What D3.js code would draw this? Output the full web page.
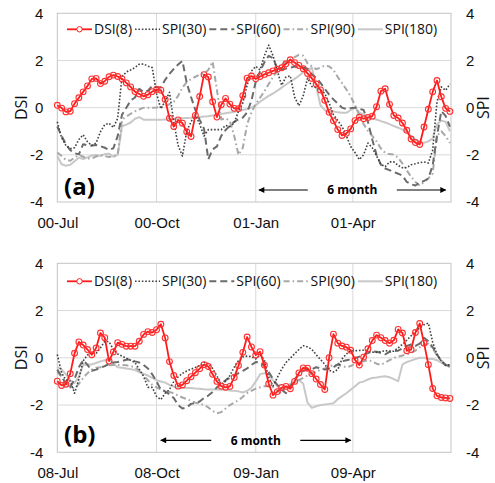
<!DOCTYPE html>
<html>
<head>
<meta charset="utf-8">
<script src="https://cdn.jsdelivr.net/npm/d3@7/dist/d3.min.js"></script>
<style>
  body { margin: 0; background: #fff; }
  #chart svg { display: block; font-family: 'Open Sans', 'Noto Sans', sans-serif; }
</style>
</head>
<body>
<div id="chart"></div>
<script>
// Every series is sampled every 4 days, starting 1 July of the first year
const stepDays = 4;
const seriesNames = ['DSI(8)', 'SPI(30)', 'SPI(60)', 'SPI(90)', 'SPI(180)'];
const yTickValues = [-4, -2, 0, 2, 4];
const quarterTicksA = ['2000-07-01', '2000-10-01', '2001-01-01', '2001-04-01'];
const quarterTicksB = ['2008-07-01', '2008-10-01', '2009-01-01', '2009-04-01'];
const spanA = ['2001-01-03', '2001-06-27'];
const spanB = ['2008-10-04', '2009-03-31'];
const spanLabel = '6 month';

// Panel (a), 2000-2001
const dsiA = [
  0.10, -0.02, -0.18, -0.15, 0.17, 0.42, 0.67, 0.92, 1.22, 1.24,
  1.02, 1.12, 1.31, 1.38, 1.32, 1.22, 1.05, 0.88, 0.68, 0.58,
  0.48, 0.55, 0.68, 0.77, 0.74, 0.35, -0.45, -0.80, -0.52, -0.66,
  -1.02, -1.22, -0.33, 0.47, 1.40, 1.30, 0.25, -0.40, 0.12, 0.39,
  0.15, -0.03, -0.04, 0.51, 1.25, 1.34, 1.22, 1.32, 1.41, 1.48,
  1.56, 1.63, 1.69, 1.86, 2.03, 1.91, 1.79, 1.65, 1.45, 1.24,
  1.00, 0.75, 0.31, -0.20, -0.56, -0.93, -1.18, -1.09, -0.90, -0.55,
  -0.41, -0.47, -0.42, -0.36, 0.04, 0.70, 0.80, 0.14, -0.33, -0.44,
  -0.65, -0.96, -1.33, -1.48, -1.56, -0.82, -0.07, 0.67, 1.15, 0.46,
  -0.03, -0.16
];
const spi30A = [
  -0.60, -1.28, -1.60, -1.74, -1.70, -1.35, -1.15, -1.45, -1.61, -1.50,
  -1.02, -0.72, -0.66, -0.84, -0.45, 1.32, 1.51, 1.60, 1.70, 1.84,
  1.85, 1.76, 1.70, 0.60, -0.05, 0.28, 0.65, -0.60, -1.60, -2.05,
  -1.00, -0.60, -0.30, -0.70, -1.20, -0.93, -0.93, -0.93, -0.93, -0.75,
  -0.80, -0.65, -0.15, 0.20, 0.95, 1.55, 1.75, 1.60, 2.20, 2.65,
  2.20, 1.55, 0.95, 1.30, 1.35, 0.45, 0.08, 0.50, 1.25, 0.90,
  0.85, 0.75, 0.60, 0.20, -0.30, -0.55, -0.80, -1.20, -1.65, -1.90,
  -2.20, -2.00, -1.50, -1.70, -2.05, -2.40, -2.50, -2.30, -2.30, -2.45,
  -2.55, -2.55, -2.42, -2.38, -2.33, -2.30, -2.35, -1.80, 0.25, 0.88,
  0.73, 1.00
];
const spi60A = [
  -0.80, -1.20, -1.55, -1.80, -1.93, -1.98, -1.55, -1.60, -1.60, -1.58,
  -1.63, -1.70, -1.79, -1.72, -1.20, -0.30, 0.00, 0.30, 0.43, 0.80,
  0.66, 0.72, 0.92, 0.88, 0.85, 1.18, 1.43, 1.64, 1.83, 1.98,
  1.05, 0.45, -0.10, -0.52, -0.89, -2.19, -1.77, -1.64, -1.20, -0.95,
  -0.77, -0.60, -0.49, -0.42, -0.20, 0.30, 1.10, 1.54, 1.92, 2.20,
  2.10, 1.65, 1.62, 1.66, 1.70, 1.74, 1.71, 1.69, 1.65, 1.41,
  1.26, 1.05, 0.80, 0.55, 0.35, 0.17, 0.00, -0.06, -0.02, 0.00,
  -0.05, -0.10, -0.60, -1.35, -2.00, -2.42, -2.58, -2.65, -2.73, -2.80,
  -2.88, -3.15, -3.25, -3.30, -3.17, -3.11, -3.00, -2.45, -1.20, -0.15,
  -0.35, -0.80
];
const spi90A = [
  -1.90, -2.05, -2.22, -2.25, -2.12, -2.00, -2.08, -2.16, -2.15, -2.07,
  -2.00, -2.05, -2.09, -2.05, -2.00, -0.50, -0.38, -0.26, -0.16, -0.08,
  0.00, 0.00, 0.00, 0.01, 0.03, 0.05, 0.15, 0.25, 0.50, 0.85,
  1.08, 1.21, 1.31, 1.40, 1.45, 1.60, 1.95, 0.75, -0.50, -0.45,
  -0.57, -1.20, -2.00, -1.70, -0.70, -0.20, 0.15, 0.42, 0.69, 1.00,
  1.30, 1.55, 1.83, 1.94, 2.04, 2.14, 2.24, 2.20, 1.88, 1.75,
  1.63, 1.70, 1.78, 1.75, 1.60, 1.30, 1.04, 0.77, 0.48, 0.10,
  -0.33, -0.70, -0.98, -1.20, -1.43, -1.73, -1.92, -1.97, -1.99, -2.12,
  -2.37, -2.66, -2.93, -3.15, -3.30, -3.15, -3.00, -2.80, -1.20, -1.00,
  -1.20, -1.50
];
const spi180A = [
  -2.05, -2.40, -2.46, -2.42, -2.27, -2.12, -2.18, -2.11, -2.03, -2.01,
  -2.05, -1.97, -1.95, -2.08, -2.00, -0.79, -0.72, -0.63, -0.47, -0.40,
  -0.51, -0.51, -0.51, -0.51, -0.51, -0.50, -0.49, -0.48, -0.47, -0.45,
  -0.44, -0.43, -0.41, -0.40, -0.38, -0.36, -0.33, -0.30, -0.27, -0.24,
  -0.21, -0.18, -0.14, -0.10, -0.06, 0.00, 0.10, 0.25, 0.38, 0.50,
  0.60, 0.72, 0.85, 0.98, 1.10, 1.22, 1.35, 1.50, 1.60, 1.70,
  0.90, 0.10, -0.10, -0.20, -0.15, -0.20, -0.22, -0.22, -0.10, 0.00,
  -0.20, -0.30, -0.40, -0.46, -0.50, -0.57, -0.63, -0.70, -0.78, -0.85,
  -0.93, -1.02, -1.20, -1.35, -1.45, -1.49, -1.43, -1.30, -0.70, -0.55,
  -0.60, -1.00
];

// Panel (b), 2008-2009
const dsiB = [
  -0.99, -1.17, -1.12, -0.67, 0.19, 0.67, 0.54, 0.35, 0.13, 0.42,
  1.05, 0.85, -0.14, 0.25, 0.64, 0.57, 0.49, 0.49, 0.49, 0.70,
  0.99, 1.11, 1.07, 1.19, 1.42, 0.84, -0.16, -0.75, -1.20, -1.15,
  -0.97, -0.80, -0.63, -0.46, -0.29, -0.37, -0.70, -1.00, -1.20, -1.25,
  -1.21, -0.83, -0.33, 0.23, 0.88, 0.46, 0.12, 0.26, -0.31, -1.10,
  -1.58, -1.43, -1.26, -1.21, -1.31, -1.00, -0.64, -0.43, -0.44, -0.67,
  -0.90, -1.13, -1.34, 0.00, 1.00, 0.62, 0.50, 0.45, 0.32, -0.09,
  -0.31, 0.03, 0.38, 0.73, 0.96, 0.85, 0.73, 0.62, 0.74, 1.20,
  1.05, 0.30, 0.35, 1.07, 1.45, 0.62, -0.29, -1.30, -1.61, -1.68,
  -1.70, -1.72
];
const spi30B = [
  0.14, -0.64, -0.94, -0.98, -1.50, -0.90, -0.13, 0.12, 0.24, 0.18,
  0.42, 0.70, 0.68, 0.35, 0.16, 0.07, -0.02, -0.10, -0.20, -0.49,
  -0.78, -1.25, -1.25, -1.63, -1.77, -1.50, -1.34, -1.00, -0.81, -0.66,
  -0.56, -0.48, -0.41, -0.33, -0.20, -0.24, -0.45, -0.77, -1.13, -0.99,
  -0.75, -0.40, -0.12, 0.04, 0.07, 0.05, -0.05, 0.13, -0.10, -0.83,
  -1.20, -0.83, -0.48, -0.20, -0.02, 0.17, 0.35, 0.51, 0.46, 0.36,
  0.13, -0.07, -0.28, -0.53, -0.60, -0.50, -0.05, 0.16, 0.30, 0.30,
  0.31, 0.32, 0.29, 0.24, 0.23, 0.26, 0.30, 0.29, 0.28, 0.42,
  0.57, 0.75, 0.93, 1.11, 1.26, 1.40, 1.47, 0.67, 0.13, -0.13,
  -0.32, -0.30
];
const spi60B = [
  -0.50, -0.80, -1.10, -1.25, -0.90, -0.40, -0.10, -0.30, -0.55, -0.50,
  -0.42, -0.35, -0.26, -0.20, -0.18, -0.14, -0.08, -0.07, -0.15, -0.20,
  -0.30, -0.45, -0.70, -1.00, -1.35, -1.42, -1.55, -1.70, -2.00, -2.15,
  -2.10, -1.95, -1.92, -1.85, -1.70, -1.60, -1.45, -1.25, -1.10, -0.95,
  -0.85, -0.75, -0.65, -0.55, -0.45, -0.30, -0.18, -0.20, -0.35, -0.60,
  -0.90, -1.15, -1.35, -1.50, -1.20, -0.90, -0.70, -0.55, -0.50, -0.48,
  -0.40, -0.45, -0.50, -0.45, -0.40, -0.28, -0.15, -0.10, -0.07, -0.02,
  0.05, 0.12, 0.20, 0.28, 0.26, 0.20, 0.15, 0.25, 0.28, 0.30,
  0.40, 0.50, 0.56, 0.50, 0.60, 0.85, 0.70, 0.45, 0.15, -0.15,
  -0.30, -0.36
];
const spi90B = [
  -0.60, -0.80, -1.05, -1.25, -1.30, -1.10, -0.85, -0.65, -0.50, -0.42,
  -0.40, -0.35, -0.32, -0.30, -0.30, -0.30, -0.32, -0.35, -0.40, -0.55,
  -0.75, -0.95, -1.15, -1.25, -1.35, -1.40, -1.45, -1.50, -1.60, -1.68,
  -1.75, -1.82, -1.90, -1.95, -2.00, -2.10, -2.25, -2.35, -2.30, -2.15,
  -2.00, -1.90, -1.80, -1.65, -1.50, -1.40, -1.30, -1.25, -1.20, -1.20,
  -1.25, -1.40, -1.50, -1.35, -1.20, -1.05, -0.95, -0.85, -0.75, -0.65,
  -0.60, -0.50, -0.45, -0.38, -0.30, -0.30, -0.35, -0.40, -0.35, -0.25,
  -0.20, -0.15, -0.10, -0.15, -0.25, -0.30, -0.20, -0.10, 0.00, 0.05,
  0.10, 0.15, 0.20, 0.30, 0.45, 0.55, 0.60, 0.40, 0.10, -0.10,
  -0.30, -0.40
];
const spi180B = [
  -0.38, -0.50, -0.70, -0.95, -1.06, -0.80, -0.30, -0.28, -0.28, -0.22,
  -0.15, -0.10, -0.07, -0.25, -0.40, -0.42, -0.45, -0.48, -0.52, -0.60,
  -0.68, -0.75, -0.85, -0.95, -1.00, -1.05, -1.15, -1.22, -1.27, -1.27,
  -1.28, -1.28, -1.30, -1.31, -1.33, -1.34, -1.34, -1.34, -1.35, -1.35,
  -1.38, -1.40, -1.42, -1.47, -1.40, -1.27, -1.00, -0.70, -0.65, -0.70,
  -0.95, -1.20, -1.34, -1.25, -1.10, -1.00, -0.93, -1.10, -1.90, -2.12,
  -2.05, -2.00, -1.98, -1.95, -1.92, -1.75, -1.62, -1.50, -1.35, -1.20,
  -1.05, -1.00, -0.92, -0.85, -0.83, -0.80, -0.78, -0.82, -0.90, -0.99,
  -0.28, -0.18, -0.12, -0.05, 0.00, 0.00, -0.05, -0.05, -0.10, -0.20,
  -0.30, -0.35
];

// Line styles for each series
const seriesStyle = {
  'DSI(8)':   { stroke: '#ff1a1a', width: 1.8, dash: null },
  'SPI(30)':  { stroke: '#404040', width: 1.6, dash: '1.6,1.8' },
  'SPI(60)':  { stroke: '#6b6b6b', width: 2, dash: '7,4' },
  'SPI(90)':  { stroke: '#a8a8a8', width: 2, dash: '6,3,1.6,3' },
  'SPI(180)': { stroke: '#c8c8c8', width: 2, dash: null }
};

const width = 495;
const height = 483;
const plot = { left: 57.3, right: 451 };
const panels = [
  { label: '(a)', top: 13.3, bottom: 202, ticks: quarterTicksA, span: spanA,
    series: [dsiA, spi30A, spi60A, spi90A, spi180A], legendDy: 16, labelDy: 182 },
  { label: '(b)', top: 263.3, bottom: 452.3, ticks: quarterTicksB, span: spanB,
    series: [dsiB, spi30B, spi60B, spi90B, spi180B], legendDy: 18, labelDy: 180 }
];

const parseDay = d3.timeParse('%Y-%m-%d');

/**
 * Draw one DSI / SPI panel
 * @param {Object} svg - d3 selection of the svg
 * @param {Object} panel - panel configuration
 */
function drawPanel(svg, panel) {
    const ticks = panel.ticks.map(parseDay);
    const start = ticks[0];

    const x = d3.scaleTime()
        .domain([start, d3.timeYear.offset(start, 1)])
        .range([plot.left, plot.right]);
    const y = d3.scaleLinear()
        .domain([-4, 4])
        .range([panel.bottom, panel.top]);

    const g = svg.append('g');

    // Gridlines
    g.append('g').selectAll('line')
        .data(yTickValues.slice(1, -1))
        .join('line')
        .attr('x1', plot.left).attr('x2', plot.right)
        .attr('y1', d => y(d)).attr('y2', d => y(d))
        .attr('stroke', '#d9d9d9');
    g.append('g').selectAll('line')
        .data(ticks.slice(1))
        .join('line')
        .attr('x1', d => x(d)).attr('x2', d => x(d))
        .attr('y1', panel.top).attr('y2', panel.bottom)
        .attr('stroke', '#d9d9d9');

    // Plot border
    g.append('rect')
        .attr('x', plot.left).attr('y', panel.top)
        .attr('width', plot.right - plot.left)
        .attr('height', panel.bottom - panel.top)
        .attr('fill', 'none')
        .attr('stroke', '#c4c4c4');

    // Axes
    const fmt = d => String(d);
    const left = g.append('g')
        .attr('transform', `translate(${plot.left},0)`)
        .call(d3.axisLeft(y).tickValues(yTickValues).tickSize(0).tickPadding(14).tickFormat(fmt));
    const right = g.append('g')
        .attr('transform', `translate(${plot.right},0)`)
        .call(d3.axisRight(y).tickValues(yTickValues).tickSize(0).tickPadding(15).tickFormat(fmt));
    const bottom = g.append('g')
        .attr('transform', `translate(0,${panel.bottom})`)
        .call(d3.axisBottom(x).tickValues(ticks).tickSize(0).tickPadding(15)
            .tickFormat(d3.timeFormat('%y-%b')));
    [left, right, bottom].forEach(a => {
        a.select('.domain').remove();
        a.selectAll('text')
            .attr('font-family', null)
            .attr('font-size', 15)
            .attr('fill', '#111');
    });

    // Axis titles
    const midY = (panel.top + panel.bottom) / 2;
    g.append('text')
        .attr('transform', `translate(27,${midY}) rotate(-90)`)
        .attr('text-anchor', 'middle')
        .attr('font-size', 16)
        .attr('fill', '#111')
        .text('DSI');
    g.append('text')
        .attr('transform', `translate(489,${midY}) rotate(-90)`)
        .attr('text-anchor', 'middle')
        .attr('font-size', 16)
        .attr('fill', '#111')
        .text('SPI');

    // Series lines, SPI first so DSI sits on top
    const dateAt = i => d3.timeDay.offset(start, i * stepDays);
    const line = d3.line()
        .x((d, i) => x(dateAt(i)))
        .y(d => y(d));

    const order = [4, 3, 2, 1, 0];
    order.forEach(k => {
        const name = seriesNames[k];
        const st = seriesStyle[name];
        g.append('path')
            .datum(panel.series[k])
            .attr('d', line)
            .attr('fill', 'none')
            .attr('stroke', st.stroke)
            .attr('stroke-width', st.width)
            .attr('stroke-dasharray', st.dash)
            .attr('stroke-linejoin', 'round');
    });

    // DSI markers
    g.append('g').selectAll('circle')
        .data(panel.series[0])
        .join('circle')
        .attr('cx', (d, i) => x(dateAt(i)))
        .attr('cy', d => y(d))
        .attr('r', 2.9)
        .attr('fill', 'none')
        .attr('stroke', '#ff3030')
        .attr('stroke-width', 1.1);

    // Legend
    const legend = g.append('g')
        .attr('transform', `translate(0,${panel.top + panel.legendDy})`);
    let cx = 67;
    seriesNames.forEach(name => {
        const st = seriesStyle[name];
        legend.append('line')
            .attr('x1', cx).attr('x2', cx + 25)
            .attr('stroke', st.stroke)
            .attr('stroke-width', st.width)
            .attr('stroke-dasharray', st.dash);
        if (name === 'DSI(8)') {
            legend.append('circle')
                .attr('cx', cx + 12.5).attr('r', 2.7)
                .attr('fill', '#fff')
                .attr('stroke', st.stroke);
        }
        const t = legend.append('text')
            .attr('x', cx + 27)
            .attr('dy', '0.35em')
            .attr('font-size', 14)
            .attr('fill', '#111')
            .text(name);
        cx += 27 + t.node().getComputedTextLength() + 3;
    });

    // Panel label
    g.append('text')
        .attr('x', 64)
        .attr('y', panel.top + panel.labelDy)
        .attr('font-size', 24)
        .attr('font-weight', 'bold')
        .attr('fill', '#000')
        .text(panel.label);

    // Six month span annotation
    const x0 = x(parseDay(panel.span[0]));
    const x1 = x(parseDay(panel.span[1]));
    const mid = (x0 + x1) / 2;
    const ay = panel.bottom - 12;
    g.append('line')
        .attr('x1', mid - 44.5).attr('x2', x0 + 1)
        .attr('y1', ay).attr('y2', ay)
        .attr('stroke', '#000').attr('stroke-width', 1.2)
        .attr('marker-end', 'url(#arrow)');
    g.append('line')
        .attr('x1', mid + 44.5).attr('x2', x1 - 1)
        .attr('y1', ay).attr('y2', ay)
        .attr('stroke', '#000').attr('stroke-width', 1.2)
        .attr('marker-end', 'url(#arrow)');
    g.append('text')
        .attr('x', mid)
        .attr('y', ay)
        .attr('dy', '0.35em')
        .attr('text-anchor', 'middle')
        .attr('font-size', 12)
        .attr('font-weight', 'bold')
        .attr('fill', '#000')
        .text(spanLabel);
}

const svg = d3.select('#chart')
    .append('svg')
    .attr('width', width)
    .attr('height', height)
    .style('background-color', '#fff');

svg.append('defs').append('marker')
    .attr('id', 'arrow')
    .attr('viewBox', '0 0 10 10')
    .attr('refX', 9).attr('refY', 5)
    .attr('markerWidth', 7).attr('markerHeight', 6)
    .attr('markerUnits', 'userSpaceOnUse')
    .attr('orient', 'auto')
    .append('path')
    .attr('d', 'M0,0L10,5L0,10z')
    .attr('fill', '#000');

panels.forEach(p => drawPanel(svg, p));
</script>
</body>
</html>
